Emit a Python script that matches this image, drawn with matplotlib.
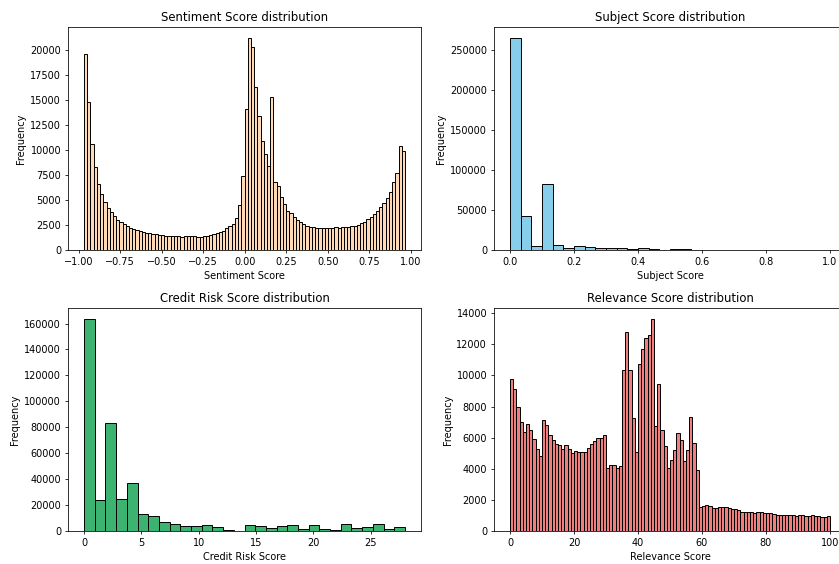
import numpy as np
import matplotlib
matplotlib.use("Agg")
import matplotlib.pyplot as plt

# ---------------- data ----------------
sentiment_range = (-0.967, 0.965)
sentiment_counts = [
    19600, 14800, 10600, 8300, 6600, 5600, 4800, 4200, 3800, 3400,
    3000, 2800, 2600, 2400, 2200, 2050, 1950, 1850, 1750, 1700,
    1650, 1600, 1550, 1500, 1470, 1440, 1420, 1400, 1380, 1350,
    1340, 1350, 1350, 1350, 1420, 1250, 1330, 1350, 1360, 1450,
    1550, 1700, 1750, 1900, 2150, 2350, 2600, 3200, 4450, 7400,
    14100, 21200, 20300, 16300, 13400, 10900, 9600, 8400, 15300, 6800,
    6400, 5250, 4550, 3900, 3650, 3300, 2950, 2750, 2550, 2400,
    2300, 2250, 2200, 2200, 2180, 2200, 2150, 2200, 2250, 2200,
    2250, 2300, 2280, 2350, 2400, 2500, 2650, 2750, 3100, 3330,
    3570, 3900, 4300, 4670, 5170, 5800, 6740, 7650, 10350, 9850,
]

subject_range = (0.0, 1.0)
subject_counts = [
    266000, 42100, 5000, 82100, 6250, 2900, 5400, 3300, 2500, 2100,
    2900, 1200, 2000, 800, 200, 800, 800, 0, 0, 0,
    0, 0, 0, 0, 0, 0, 0, 0, 0, 0,
]

credit_range = (0.0, 28.0)
credit_counts = [
    163800, 24000, 83200, 25000, 36800, 13400, 11600, 6700, 5400, 4100,
    3600, 4400, 3300, 500, 0, 4400, 3900, 2000, 3600, 4400,
    1700, 4400, 1300, 800, 5200, 2300, 3300, 5200, 1300, 2800,
]

relevance_range = (0.0, 100.0)
relevance_counts = [
    9740, 9100, 7960, 7010, 6360, 6880, 6470, 5910, 5270, 4840,
    7160, 6790, 6190, 5870, 5570, 5500, 5270, 5500, 5270, 5010,
    5120, 5050, 5050, 5050, 5330, 5610, 5780, 5980, 5980, 6190,
    4040, 4240, 4260, 4040, 4150, 10340, 12810, 10340, 7270, 5050,
    10710, 11720, 12410, 12620, 13650, 6730, 9420, 6510, 5440, 4040,
    4540, 5180, 6300, 5830, 4490, 5220, 7310, 5650, 3930, 1530,
    1630, 1680, 1610, 1460, 1460, 1530, 1530, 1530, 1460, 1400,
    1440, 1350, 1200, 1250, 1230, 1200, 1180, 1230, 1200, 1140,
    1180, 1140, 1100, 1030, 1030, 1030, 1030, 1030, 1030, 990,
    1030, 1010, 990, 990, 1030, 970, 990, 920, 900, 950,
]

panels = [
    ("Sentiment Score distribution", "Sentiment Score", sentiment_range, sentiment_counts, "peachpuff"),
    ("Subject Score distribution", "Subject Score", subject_range, subject_counts, "skyblue"),
    ("Credit Risk Score distribution", "Credit Risk Score", credit_range, credit_counts, "mediumseagreen"),
    ("Relevance Score distribution", "Relevance Score", relevance_range, relevance_counts, "lightcoral"),
]

# ---------------- figure ----------------
W, H = 839, 564
DPI = 70  # reference looks like a 100-dpi figure scaled by 0.7
fig = plt.figure(figsize=(W / DPI, H / DPI), dpi=DPI)

# axes boxes in pixels: (left, top, right, bottom)
boxes = [
    (68, 27, 421, 250),
    (494, 27, 846, 250),
    (68, 308, 421, 531),
    (494, 308, 846, 531),
]

for (title, xlabel, rng, counts, color), (l, t, r, b) in zip(panels, boxes):
    ax = fig.add_axes([l / W, 1 - b / H, (r - l) / W, (b - t) / H])
    counts = np.asarray(counts, dtype=float)
    edges = np.linspace(rng[0], rng[1], len(counts) + 1)
    ax.hist(edges[:-1], bins=edges, weights=counts, color=color,
            edgecolor="black", linewidth=1.0)
    ax.set_title(title)
    ax.set_xlabel(xlabel)
    ax.set_ylabel("Frequency")

fig.savefig("out.png", dpi=DPI)
